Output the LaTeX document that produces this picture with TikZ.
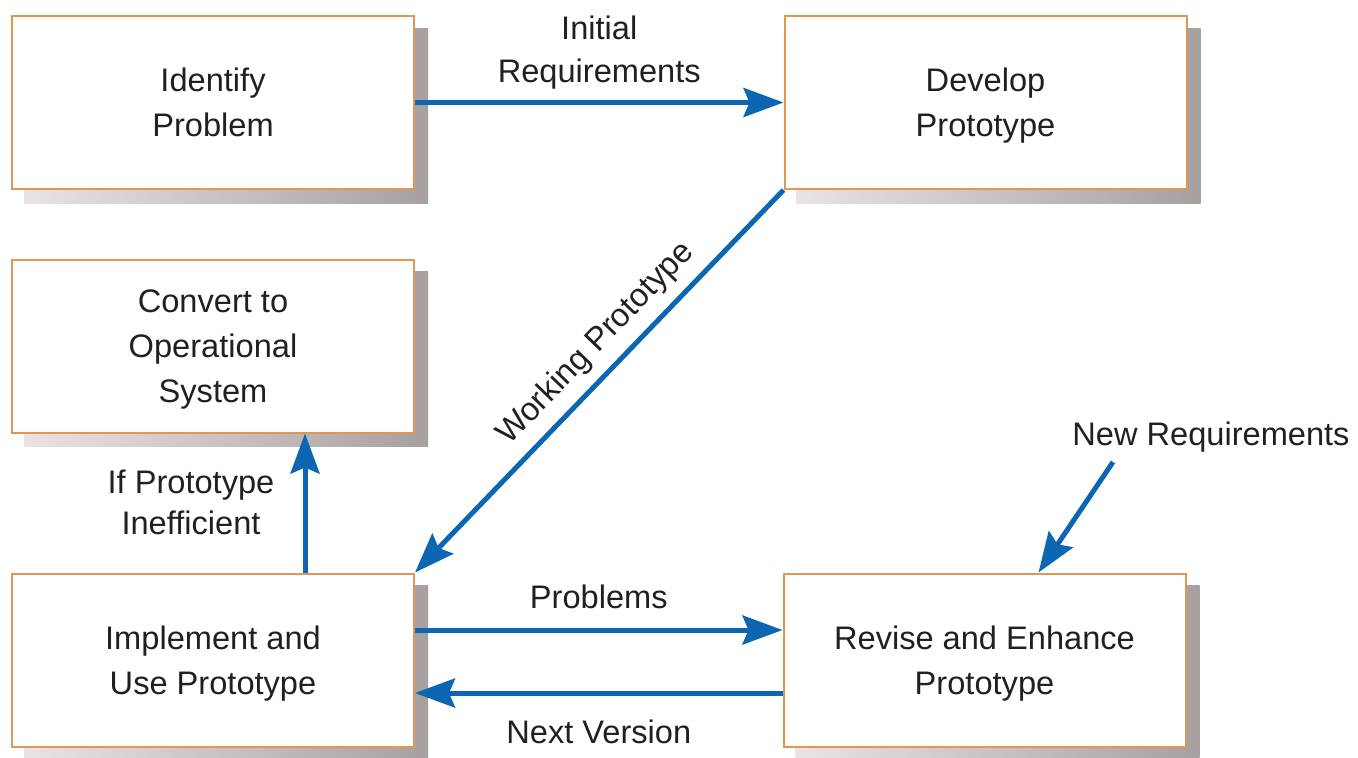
\documentclass[tikz,border=0pt]{standalone}
\usepackage{fontspec}
\setmainfont{Liberation Sans}
\usetikzlibrary{positioning,calc,arrows.meta,backgrounds}

\definecolor{flowblue}{RGB}{12,102,178}
\definecolor{boxedge}{RGB}{222,152,84}
\definecolor{shadelight}{RGB}{234,227,227}
\definecolor{shadedark}{RGB}{166,160,161}
\definecolor{inkgray}{RGB}{35,31,32}

\begin{document}
\begin{tikzpicture}[
  x = 0.5pt, y = -0.5pt,
  every node/.style = {font=\fontsize{16.3}{22.5}\selectfont, text=inkgray, align=center},
  stage/.style = {draw=boxedge, line width=1pt, fill=white,
    minimum width=201pt, minimum height=86.5pt, text depth=0pt},
  flow/.style = {draw=flowblue, line width=2.5pt},
  >={Stealth[length=20pt,width=14.5pt,inset=3pt]},
  ]
  \useasboundingbox (0,0) rectangle (1358,757);

  \node[stage] (ident) at (213,102.5) {Identify\\Problem};
  \node[stage] (devel) at (985.5,102.5) {Develop\\Prototype};
  \node[stage] (conv) at (213,346) {Convert to\\Operational\\System};
  \node[stage] (impl) at (213,660) {Implement and\\Use Prototype};
  \node[stage] (revise) at (984.5,660) {Revise and Enhance\\Prototype};

  \begin{scope}[on background layer]
    \foreach \b in {ident,devel,conv,impl,revise}
      \shade[left color=shadelight, right color=shadedark]
        ($(\b.south west)+(13,13)$) rectangle ($(\b.north east)+(13,13)$);
  \end{scope}

  \draw[flow, ->] (ident) -- node[above=2pt, font=\fontsize{16.3}{21.5}\selectfont] (initlbl) {Initial\\Requirements} (devel);
  \draw[flow, <-] (impl.north east) -- node[sloped, above=2pt, pos=0.547] (worklbl) {Working Prototype} (devel.south west);
  \draw[flow, ->] ([yshift=15pt]impl.east) -- node[above=6pt] (problbl) {Problems} ([yshift=15pt]revise.west);
  \draw[flow, ->] ([yshift=-16.5pt]revise.west) -- node[below=9pt] (nextlbl) {Next Version} ([yshift=-16.5pt]impl.east);
  \draw[flow, ->] ([xshift=46pt]impl.north) -- ([xshift=46pt]conv.south);

  \node[font=\fontsize{16.3}{20.5}\selectfont] (ineflbl) at (191,502) {If Prototype\\Inefficient};

  \node (newreq) at (1211,437) {New Requirements};
  \coordinate (newtail) at (1113,462);
  \draw[flow, ->] (newtail) -- ([xshift=27pt]revise.north);
\end{tikzpicture}
\end{document}
